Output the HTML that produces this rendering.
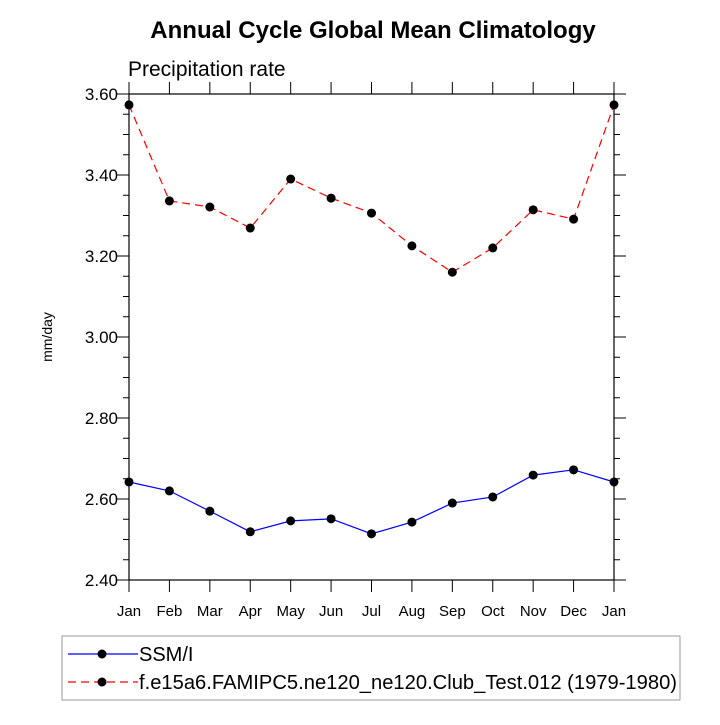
<!DOCTYPE html>
<html><head><meta charset="utf-8"><style>body{margin:0;background:#fff}svg text{font-family:"Liberation Sans",Arial,sans-serif}</style></head>
<body>
<svg id="chart" width="720" height="720" xmlns="http://www.w3.org/2000/svg">
<text x="373" y="38" text-anchor="middle" font-size="24" font-weight="bold">Annual Cycle Global Mean Climatology</text>
<text x="128" y="76" font-size="21">Precipitation rate</text>
<text transform="translate(52,337) rotate(-90)" text-anchor="middle" font-size="14">mm/day</text>
<g id="axes"></g>
<g id="series"></g>
<g>
<rect x="62" y="636" width="618" height="64" fill="none" stroke="#999" stroke-width="1"/>
<line x1="68" y1="654" x2="138" y2="654" stroke="#0000ff" stroke-width="1.2"/>
<circle cx="102" cy="654" r="4.5" fill="#000"/>
<text x="139" y="661" font-size="20">SSM/I</text>
<line x1="68" y1="682" x2="138" y2="682" stroke="#ff0000" stroke-width="1.2" stroke-dasharray="8,5"/>
<circle cx="102" cy="682" r="4.5" fill="#000"/>
<text x="139" y="689" font-size="20" textLength="538" lengthAdjust="spacingAndGlyphs">f.e15a6.FAMIPC5.ne120_ne120.Club_Test.012 (1979-1980)</text>
</g>
</svg>
<script>
const months=["Jan","Feb","Mar","Apr","May","Jun","Jul","Aug","Sep","Oct","Nov","Dec","Jan"];
const obsValues=[2.642,2.620,2.570,2.519,2.546,2.551,2.514,2.543,2.590,2.605,2.659,2.672,2.642];
const modelValues=[3.573,3.336,3.321,3.269,3.390,3.343,3.306,3.225,3.160,3.220,3.314,3.291,3.573];
const yTicks=["2.40","2.60","2.80","3.00","3.20","3.40","3.60"];
const NS="http://www.w3.org/2000/svg";
const L=129,R=614,T=94,B=580,ymin=2.4,ymax=3.6;
const xs=i=>L+(R-L)*i/(months.length-1);
const ys=v=>B-(v-ymin)/(ymax-ymin)*(B-T);
function mk(t,a,p){const e=document.createElementNS(NS,t);for(const k in a)e.setAttribute(k,a[k]);p.appendChild(e);return e;}
const ax=document.getElementById('axes');
const fr=mk('rect',{x:L,y:T,width:R-L,height:B-T,fill:'none',stroke:'#000','stroke-width':1.2},ax);


for(let v=ymin;v<=ymax+1e-9;v+=0.05){
  const y=ys(v),maj=Math.abs(Math.round(v*100)%20)<1e-6;const len=maj?12:6;
  mk('line',{x1:L-len,y1:y,x2:L,y2:y,stroke:'#000'},ax);
  mk('line',{x1:R,y1:y,x2:R+len,y2:y,stroke:'#000'},ax);
}
yTicks.forEach(s=>{const t=mk('text',{x:L-11,y:ys(+s)+6,'text-anchor':'end','font-size':17},ax);t.textContent=s;

});
months.forEach((m,i)=>{const x=xs(i);
  mk('line',{x1:x,y1:B,x2:x,y2:B+12,stroke:'#000'},ax);
  mk('line',{x1:x,y1:T-12,x2:x,y2:T,stroke:'#000'},ax);
  const t=mk('text',{x:x,y:B+36,'text-anchor':'middle','font-size':15},ax);t.textContent=m;
  
  });
const sg=document.getElementById('series');
function series(vals,color,dash,name){
  const p=mk('polyline',{points:vals.map((v,i)=>xs(i)+','+ys(v)).join(' '),fill:'none',stroke:color,'stroke-width':1.2,'stroke-dasharray':dash},sg);
  
  
  vals.forEach((v,i)=>{const c=mk('circle',{cx:xs(i),cy:ys(v),r:4.5,fill:'#000'},sg);
    
    });
}
series(obsValues,'#0000ff','none','ssmi');
series(modelValues,'#ff0000','8,5','model');
</script>
</body></html>
